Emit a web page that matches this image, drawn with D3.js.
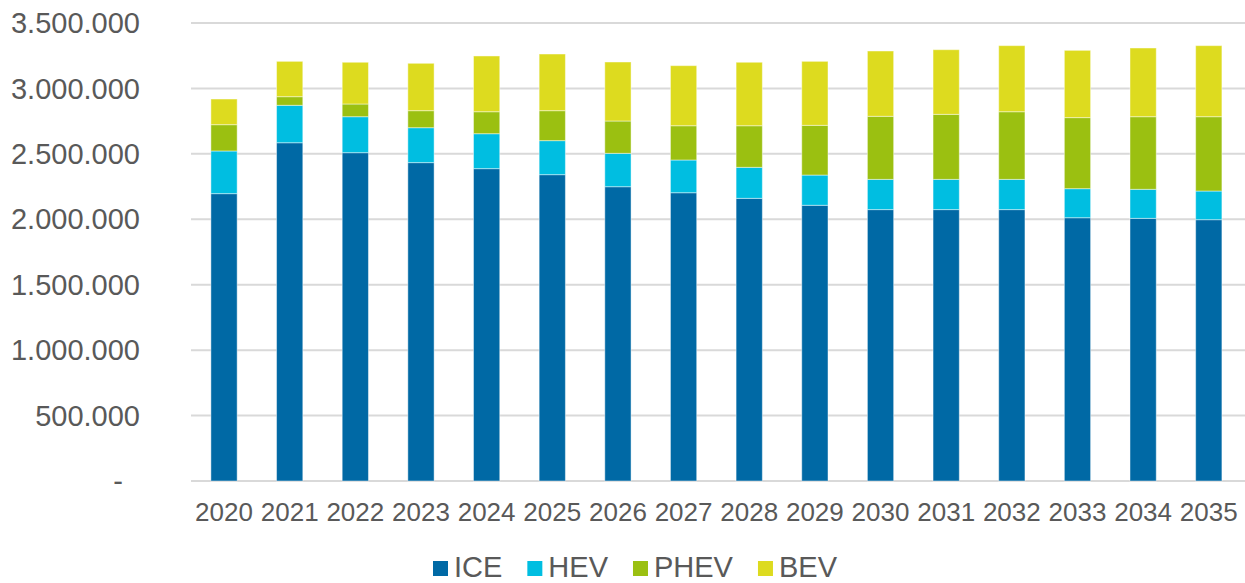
<!DOCTYPE html>
<html>
<head>
<meta charset="utf-8">
<script src="https://cdn.jsdelivr.net/npm/d3@7"></script>
<style>
    body { margin: 0; background: #fff; }
    text { font-family: "Liberation Sans", Arial, sans-serif; fill: #595959; }
</style>
</head>
<body>
<div id="chart"></div>
<script>
// categories
const years = ["2020", "2021", "2022", "2023", "2024", "2025", "2026", "2027",
    "2028", "2029", "2030", "2031", "2032", "2033", "2034", "2035"];

// series values (vehicles)
const ice  = [2196000, 2585000, 2509000, 2433000, 2387000, 2341000, 2249000, 2203000,
    2160000, 2107000, 2074000, 2074000, 2074000, 2012000, 2007000, 1997000];
const hev  = [326000, 286000, 275000, 267000, 267000, 260000, 255000, 250000,
    237000, 231000, 231000, 231000, 231000, 222000, 222000, 219000];
const phev = [201000, 66000, 97000, 130000, 168000, 229000, 247000, 262000,
    318000, 380000, 482000, 497000, 517000, 543000, 555000, 568000];
const bev  = [196000, 270000, 319000, 362000, 426000, 433000, 451000, 459000,
    485000, 489000, 499000, 494000, 505000, 514000, 525000, 543000];

const seriesNames = ["ICE", "HEV", "PHEV", "BEV"];
const seriesColors = ["#0069a5", "#00bee1", "#9bc011", "#dddb1f"];
const yTicks = [0, 500000, 1000000, 1500000, 2000000, 2500000, 3000000, 3500000];

// build a table for d3.stack
const table = years.map((y, i) => ({year: y, ICE: ice[i], HEV: hev[i], PHEV: phev[i], BEV: bev[i]}));

const W = 1245, H = 583;
const svg = d3.select("#chart").append("svg")
    .attr("width", W)
    .attr("height", H);

const x = d3.scaleBand()
    .domain(years)
    .range([191.2, 1241.6])
    .paddingInner(0.6)
    .paddingOuter(0.3);

const y = d3.scaleLinear()
    .domain([0, 3500000])
    .range([481, 23]);

const color = d3.scaleOrdinal()
    .domain(seriesNames)
    .range(seriesColors);

// gridlines
svg.append("g")
    .selectAll("line")
    .data(yTicks)
    .enter()
    .append("line")
    .attr("x1", 191)
    .attr("x2", 1245)
    .attr("y1", d => y(d))
    .attr("y2", d => y(d))
    .attr("stroke", "#d9d9d9")
    .attr("stroke-width", 2);

// y labels, german number format
const fmt = d3.formatLocale({decimal: ",", thousands: ".", grouping: [3], currency: ["", "€"]}).format(",d");
svg.append("g")
    .selectAll("text")
    .data(yTicks)
    .enter()
    .append("text")
    .attr("x", d => d === 0 ? 123 : 140)
    .attr("y", d => y(d))
    .attr("dy", "0.35em")
    .attr("text-anchor", "end")
    .style("font-size", "29px")
    .text(d => d === 0 ? "-" : fmt(d));

// stacked bars
const stacked = d3.stack().keys(seriesNames)(table);

svg.append("g")
    .selectAll("g")
    .data(stacked)
    .enter()
    .append("g")
    .attr("fill", d => color(d.key))
    .selectAll("rect")
    .data(d => d)
    .enter()
    .append("rect")
    .attr("x", d => x(d.data.year))
    .attr("width", x.bandwidth())
    .attr("y", d => y(d[1]))
    .attr("height", d => y(d[0]) - y(d[1]))
    .attr("stroke", "rgba(255,255,255,0.45)")
    .attr("stroke-width", 1);

// x labels
svg.append("g")
    .selectAll("text")
    .data(years)
    .enter()
    .append("text")
    .attr("x", d => x(d) + x.bandwidth() / 2)
    .attr("y", 521)
    .attr("text-anchor", "middle")
    .style("font-size", "26px")
    .text(d => d);

// legend
const legend = svg.append("g").attr("class", "legend");
let lx = 433;
seriesNames.forEach(name => {
    legend.append("rect")
        .attr("x", lx)
        .attr("y", 561)
        .attr("width", 15)
        .attr("height", 15)
        .attr("fill", color(name));
    const t = legend.append("text")
        .attr("x", lx + 21)
        .attr("y", 577)
        .style("font-size", "29px")
        .text(name);
    lx += 21 + t.node().getComputedTextLength() + 25;
});
</script>
</body>
</html>
